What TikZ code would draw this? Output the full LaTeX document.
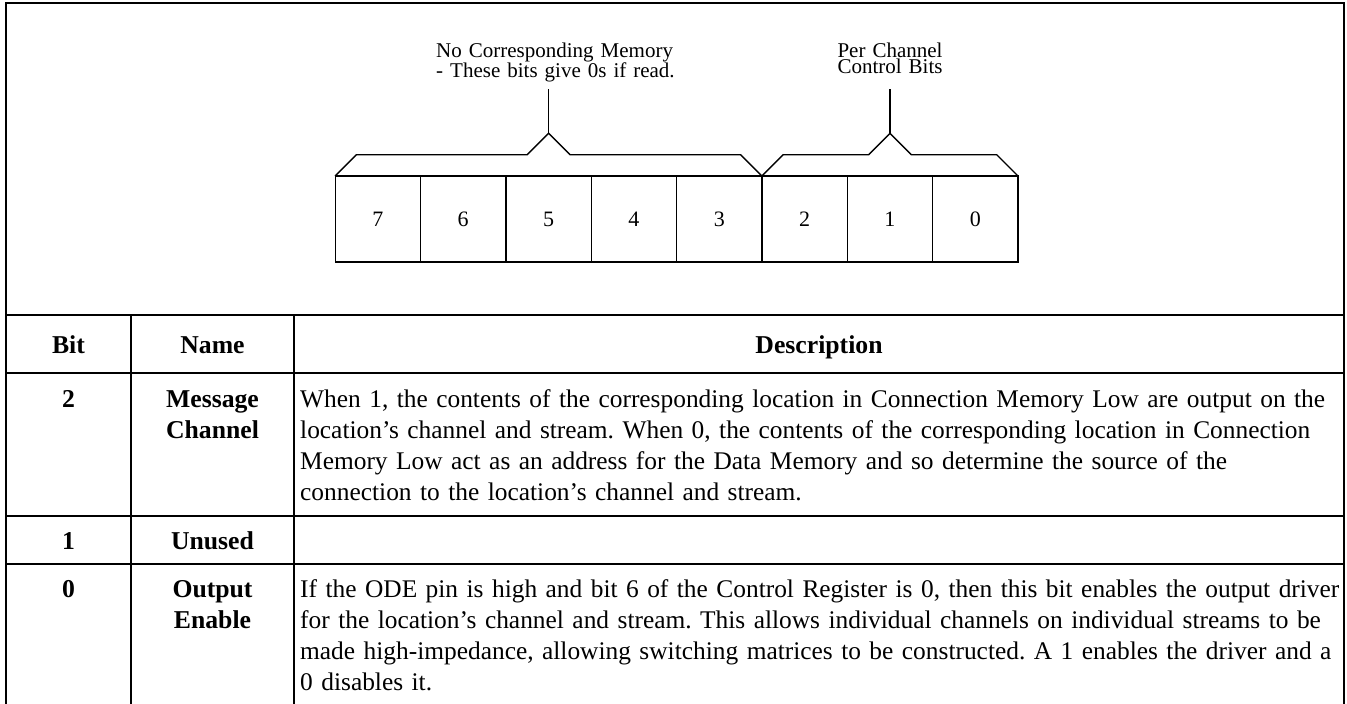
\documentclass[tikz,border=0pt]{standalone}
\usepackage{fontspec}
\setmainfont{Liberation Serif}
\usetikzlibrary{calc}
\setlength{\lineskiplimit}{-30pt}
\frenchspacing

\begin{document}
\begin{tikzpicture}[x=1pt, y=-1pt,
    rule/.style={line width=1.7pt},
    regline/.style={line width=1.4pt},
    cell/.style={draw, line width=1.4pt, minimum width=85.35pt, minimum height=86pt, inner sep=0pt, outer sep=0pt, font=\fontsize{22}{26}\selectfont},
    tag/.style={inner sep=0pt, font=\fontsize{21}{16}\selectfont},
    head/.style={inner sep=0pt, anchor=base, font=\fontsize{25.7}{31}\selectfont\bfseries},
    desc/.style={inner sep=0pt, anchor=base west, text width=1100pt, align=left, font=\fontsize{25.4}{31}\selectfont}]
        \useasboundingbox (0,0) rectangle (1347,704);
        \clip (0,0) rectangle (1347,704);

        % Outer frame and table rules
        \draw[rule] (6,720) -- (6,3) -- (1344,3) -- (1344,720);
        \foreach \y in {315,373,516,564}
            \draw[rule] (6,\y) -- (1344,\y);
        \draw[rule] (131,315) -- (131,720);
        \draw[rule] (294,315) -- (294,720);

        % Register bits 7 .. 0
        \foreach \b in {0,...,7}
            \node[cell] (b\b) at ({335.2+85.35*(7-\b)+42.675},219) {\b};

        % Braces over bit groups
        \foreach \from/\to/\mid/\side in {b7/b3/b5/L, b2/b0/b1/R} {
            \coordinate (peak\side) at ([yshift=42.7pt]\mid.north);
            \draw[regline] (\from.north west) -- ++(21.3,-21.3) -- ($(peak\side)+(-21.4,21.4)$) -- (peak\side)
                -- ($(peak\side)+(21.4,21.4)$) -- ($(\to.north east)+(-21.3,-21.3)$) -- (\to.north east);
            \draw[regline] (peak\side) -- ++(0,-44.3);
        }

        % Group labels
        \node[tag, anchor=base west, text width=240pt, align=left] (nomem) at (436,57.5) {No Corresponding Memory\\- These bits give 0s if read.};
        \node[tag, anchor=base, text width=120pt, align=center] (perch) at (890,57.5) {Per Channel\\Control Bits};

        % Table header
        \node[head] (hbit) at (68.5,353) {Bit};
        \node[head] (hname) at (212.5,353) {Name};
        \node[head] (hdesc) at (819,353) {Description};

        % Row: bit 2
        \node[head] (r2) at (68.5,407) {2};
        \node[head, text width=160pt, align=center] (n2) at (212.5,407) {Message\\Channel};
        \node[desc] (d2) at (300,407) {When 1, the contents of the corresponding location in Connection Memory Low are output on the\\
            location’s channel and stream. When 0, the contents of the corresponding location in Connection\\
            Memory Low act as an address for the Data Memory and so determine the source of the\\
            connection to the location’s channel and stream.};

        % Row: bit 1
        \node[head] (r1) at (68.5,549) {1};
        \node[head] (n1) at (212.5,549) {Unused};

        % Row: bit 0
        \node[head] (r0) at (68.5,597) {0};
        \node[head, text width=160pt, align=center] (n0) at (212.5,597) {Output\\Enable};
        \node[desc] (d0) at (300,597) {If the ODE pin is high and bit 6 of the Control Register is 0, then this bit enables the output driver\\
            for the location’s channel and stream. This allows individual channels on individual streams to be\\
            made high-impedance, allowing switching matrices to be constructed. A 1 enables the driver and a\\
            0 disables it.};
\end{tikzpicture}
\end{document}
